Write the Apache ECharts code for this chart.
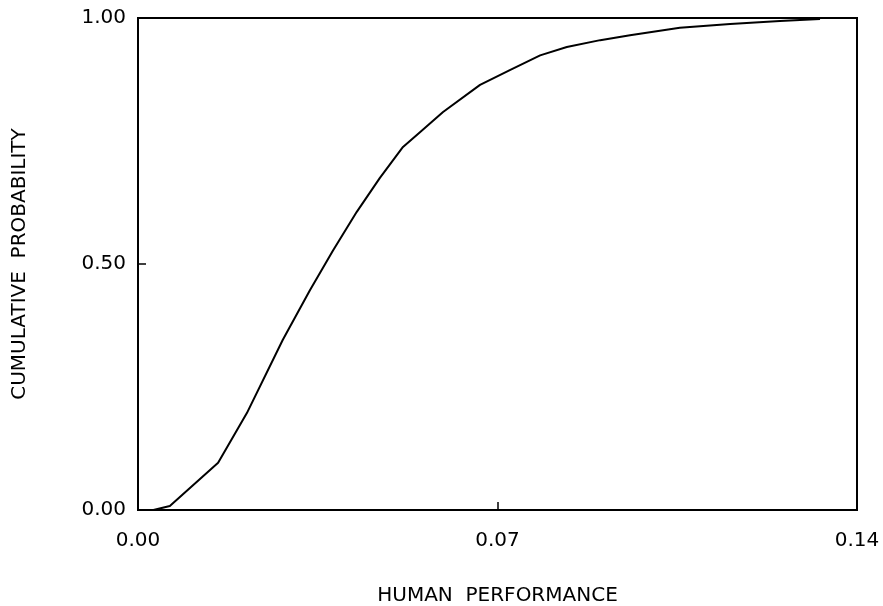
<!DOCTYPE html>
<html>
<head>
<meta charset="utf-8">
<style>
  html, body { margin: 0; padding: 0; background: #fff; }
  #chart { width: 883px; height: 606px; }
</style>
<script src="https://cdn.jsdelivr.net/npm/echarts@6/dist/echarts.min.js"></script>
</head>
<body>
<div id="chart"></div>
<script>
// values
const performance = [0.0030, 0.0062, 0.0156, 0.0212, 0.0282, 0.0335, 0.0380, 0.0426, 0.0471, 0.0516,
  0.0549, 0.0594, 0.0666, 0.0724, 0.0783, 0.0835, 0.0900, 0.0958, 0.1055, 0.1153, 0.1250, 0.1328]
const cumProb = [0.000, 0.008, 0.096, 0.197, 0.346, 0.447, 0.528, 0.606, 0.675, 0.738,
  0.768, 0.809, 0.864, 0.894, 0.924, 0.941, 0.955, 0.965, 0.980, 0.988, 0.994, 0.998]
const xTicks = ['0.00', '0.07', '0.14']
const yTicks = ['0.00', '0.50', '1.00']

let seriesData = []
performance.map((item, index) => {
  seriesData.push([item, cumProb[index]])
})

const font = 'DejaVu Sans'
let option = {
  animation: false,
  backgroundColor: '#fff',
  grid: {
    left: 138,
    right: 26,
    top: 18,
    bottom: 96,
    outerBoundsMode: 'none',
    containLabel: false,
    show: true,
    borderColor: '#000',
    borderWidth: 2
  },
  xAxis: {
    type: 'value',
    min: 0,
    max: 0.14,
    interval: 0.07,
    name: 'HUMAN  PERFORMANCE',
    nameLocation: 'middle',
    nameGap: 76,
    nameTextStyle: { color: '#000', fontSize: 20, fontFamily: font },
    axisLine: { show: true, lineStyle: { color: '#000', width: 2 } },
    axisTick: { show: true, inside: true, length: 8, lineStyle: { color: '#000', width: 1.5 } },
    axisLabel: {
      color: '#000',
      fontSize: 20,
      fontFamily: font,
      margin: 21,
      formatter: function (v) { return xTicks[Math.round(v / 0.07)] }
    },
    splitLine: { show: false }
  },
  yAxis: {
    type: 'value',
    min: 0,
    max: 1,
    interval: 0.5,
    name: 'CUMULATIVE  PROBABILITY',
    nameLocation: 'middle',
    nameGap: 108,
    nameTextStyle: { color: '#000', fontSize: 20, fontFamily: font },
    axisLine: { show: true, lineStyle: { color: '#000', width: 2 } },
    axisTick: { show: true, inside: true, length: 8, lineStyle: { color: '#000', width: 1.5 } },
    axisLabel: {
      color: '#000',
      fontSize: 20,
      fontFamily: font,
      margin: 12,
      formatter: function (v) { return yTicks[Math.round(v / 0.5)] }
    },
    splitLine: { show: false }
  },
  series: [{
    type: 'line',
    data: seriesData,
    showSymbol: false,
    smooth: false,
    lineStyle: { color: '#000', width: 2 }
  }]
}

let myChart = echarts.init(document.getElementById('chart'))
myChart.setOption(option, true)
</script>
</body>
</html>
